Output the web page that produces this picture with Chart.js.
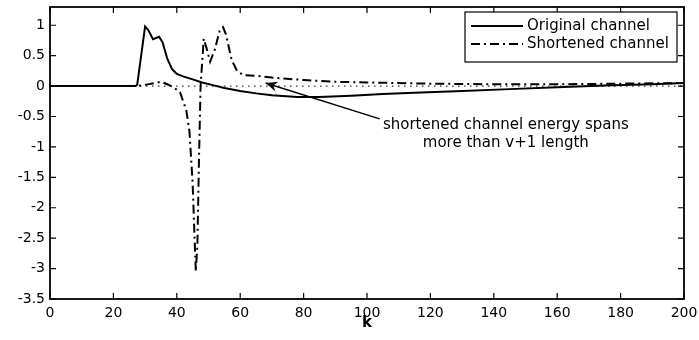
<!DOCTYPE html>
<html>
<head>
<meta charset="utf-8">
<script src="https://cdn.jsdelivr.net/npm/chart.js@4/dist/chart.umd.min.js"></script>
<style>
  body { margin: 0; background: #fff; }
  canvas { display: block; }
</style>
</head>
<body>
<canvas id="channelChart" width="699" height="340"></canvas>
<script>
// impulse response samples (tap index k, amplitude)
const kOriginal = [0, 27, 27.5, 30, 31, 32.5, 34.4, 35.5, 37, 38.5, 40, 42, 45, 48, 51, 55, 60, 65, 70, 78, 85, 95, 105, 115, 130, 145, 160, 175, 190, 200];
const original = [0, 0, 0.02, 0.98, 0.92, 0.77, 0.81, 0.72, 0.45, 0.28, 0.2, 0.16, 0.11, 0.06, 0.02, -0.03, -0.08, -0.12, -0.15, -0.18, -0.18, -0.16, -0.13, -0.11, -0.08, -0.05, -0.02, 0.01, 0.03, 0.05];

const kShortened = [0, 27, 30, 33, 35, 37, 39, 41, 43, 44, 45, 45.6, 46, 46.5, 47, 47.5, 48.5, 49.5, 50.5, 52, 53.6, 54.6, 55.5, 57.3, 59, 61, 65, 70, 80, 90, 100, 120, 140, 160, 180, 200];
const shortened = [0, 0, 0.02, 0.05, 0.07, 0.03, -0.02, -0.1, -0.4, -0.75, -1.6, -2.5, -3.05, -2.6, -1.2, 0, 0.78, 0.6, 0.4, 0.6, 0.93, 0.97, 0.85, 0.43, 0.25, 0.18, 0.17, 0.14, 0.1, 0.07, 0.06, 0.04, 0.03, 0.03, 0.04, 0.05];

const kZero = [0, 200];
const zeroLine = [0, 0];

const seriesLabels = ["Original channel", "Shortened channel"];
const xTicks = [0, 20, 40, 60, 80, 100, 120, 140, 160, 180, 200];
const yTicks = [-3.5, -3, -2.5, -2, -1.5, -1, -0.5, 0, 0.5, 1];
const yTickLabels = ["-3.5", "-3", "-2.5", "-2", "-1.5", "-1", "-0.5", "0", "0.5", "1"];
const noteLines = ["shortened channel energy spans", "more than v+1 length"];

const FONT = "'DejaVu Sans', sans-serif";
const DASH_DOT = [9, 4, 2, 4];

// annotation placement in data units
const arrowFrom = { x: 104, y: -0.54 };
const arrowTo = { x: 68, y: 0.05 };
const noteAt = { x: 143.8, y: -0.64 };

const toXY = (xs, ys) => xs.map((x, i) => ({ x: x, y: ys[i] }));

// box around the axes with inward tick marks on all four sides
const framePlugin = {
  id: "frame",
  afterDraw(chart) {
    const { ctx, chartArea: a, scales } = chart;
    ctx.save();
    ctx.strokeStyle = "#000";
    ctx.lineWidth = 1.8;
    ctx.strokeRect(a.left, a.top, a.right - a.left, a.bottom - a.top);
    ctx.lineWidth = 1.2;
    ctx.beginPath();
    xTicks.forEach(function (v) {
      const px = scales.x.getPixelForValue(v);
      ctx.moveTo(px, a.bottom); ctx.lineTo(px, a.bottom - 6);
      ctx.moveTo(px, a.top); ctx.lineTo(px, a.top + 6);
    });
    yTicks.forEach(function (v) {
      const py = scales.y.getPixelForValue(v);
      ctx.moveTo(a.left, py); ctx.lineTo(a.left + 6, py);
      ctx.moveTo(a.right, py); ctx.lineTo(a.right - 6, py);
    });
    ctx.stroke();
    ctx.restore();
  },
};

// legend box in the upper right corner of the axes
const legendBoxPlugin = {
  id: "legendBox",
  afterDraw(chart) {
    const { ctx, chartArea: a } = chart;
    const right = a.right - 7, top = a.top + 5, w = 212, h = 50;
    const left = right - w;
    ctx.save();
    ctx.fillStyle = "#fff";
    ctx.fillRect(left, top, w, h);
    ctx.strokeStyle = "#000";
    ctx.lineWidth = 1.2;
    ctx.strokeRect(left, top, w, h);
    ctx.font = "15px " + FONT;
    ctx.textBaseline = "middle";
    ctx.fillStyle = "#000";
    [0, 1].forEach(function (i) {
      const ds = chart.data.datasets[i];
      const y = top + 14 + i * 18;
      ctx.beginPath();
      ctx.lineWidth = ds.borderWidth;
      ctx.setLineDash(ds.borderDash || []);
      ctx.moveTo(left + 6, y);
      ctx.lineTo(left + 58, y);
      ctx.stroke();
      ctx.setLineDash([]);
      ctx.fillText(ds.label, left + 62, y);
    });
    ctx.restore();
  },
};

// arrow and text note about the shortened channel tail
const notePlugin = {
  id: "note",
  afterDraw(chart) {
    const { ctx, scales } = chart;
    const x0 = scales.x.getPixelForValue(arrowFrom.x), y0 = scales.y.getPixelForValue(arrowFrom.y);
    const x1 = scales.x.getPixelForValue(arrowTo.x), y1 = scales.y.getPixelForValue(arrowTo.y);
    const ang = Math.atan2(y1 - y0, x1 - x0);
    ctx.save();
    ctx.strokeStyle = "#000";
    ctx.fillStyle = "#000";
    ctx.lineWidth = 1.4;
    ctx.beginPath();
    ctx.moveTo(x0, y0);
    ctx.lineTo(x1, y1);
    ctx.stroke();
    ctx.translate(x1, y1);
    ctx.rotate(ang);
    ctx.beginPath();
    ctx.moveTo(0, 0);
    ctx.lineTo(-12, -5);
    ctx.lineTo(-8, 0);
    ctx.lineTo(-12, 5);
    ctx.closePath();
    ctx.fill();
    ctx.restore();

    ctx.save();
    ctx.font = "15px " + FONT;
    ctx.fillStyle = "#000";
    ctx.textAlign = "center";
    ctx.textBaseline = "middle";
    const tx = scales.x.getPixelForValue(noteAt.x), ty = scales.y.getPixelForValue(noteAt.y);
    noteLines.forEach(function (line, i) {
      ctx.fillText(line, tx, ty + i * 18);
    });
    ctx.restore();
  },
};

document.addEventListener("DOMContentLoaded", function () {
  const ctx = document.getElementById("channelChart").getContext("2d");

  new Chart(ctx, {
    type: "line",
    data: {
      datasets: [
        {
          label: seriesLabels[0],
          data: toXY(kOriginal, original),
          borderColor: "#000",
          borderWidth: 2,
          pointRadius: 0,
          tension: 0,
        },
        {
          label: seriesLabels[1],
          data: toXY(kShortened, shortened),
          borderColor: "#000",
          borderWidth: 2,
          borderDash: DASH_DOT,
          pointRadius: 0,
          tension: 0,
        },
        {
          label: "",
          data: toXY(kZero, zeroLine),
          borderColor: "#333",
          borderWidth: 1.3,
          borderDash: [1.5, 4.5],
          pointRadius: 0,
        },
      ],
    },
    options: {
      responsive: false,
      animation: false,
      layout: { padding: { top: 7, right: 15, left: 0, bottom: 0 } },
      plugins: {
        legend: { display: false },
        tooltip: { enabled: false },
      },
      scales: {
        x: {
          type: "linear",
          min: 0,
          max: 200,
          afterBuildTicks: function (axis) {
            axis.ticks = xTicks.map(function (v) { return { value: v }; });
          },
          afterFit: function (axis) {
            axis.height = 41;
            axis.paddingLeft = 0;
            axis.paddingRight = 0;
          },
          grid: { drawOnChartArea: false, drawTicks: false },
          border: { display: false },
          ticks: {
            autoSkip: false,
            maxRotation: 0,
            padding: 6,
            color: "#000",
            font: { family: FONT, size: 14 },
          },
          title: {
            display: true,
            text: "k",
            color: "#000",
            font: { family: FONT, size: 15, weight: "bold" },
            padding: { top: 0, bottom: 8 },
          },
        },
        y: {
          min: -3.5,
          max: 1.3,
          afterBuildTicks: function (axis) {
            axis.ticks = yTicks.map(function (v) { return { value: v }; });
          },
          afterFit: function (axis) {
            axis.width = 50;
            axis.paddingTop = 0;
            axis.paddingBottom = 0;
          },
          grid: { drawOnChartArea: false, drawTicks: false },
          border: { display: false },
          ticks: {
            autoSkip: false,
            padding: 5,
            color: "#000",
            font: { family: FONT, size: 14 },
            callback: function (value) {
              return yTickLabels[yTicks.indexOf(value)];
            },
          },
        },
      },
    },
    plugins: [framePlugin, legendBoxPlugin, notePlugin],
  });
});
</script>
</body>
</html>
